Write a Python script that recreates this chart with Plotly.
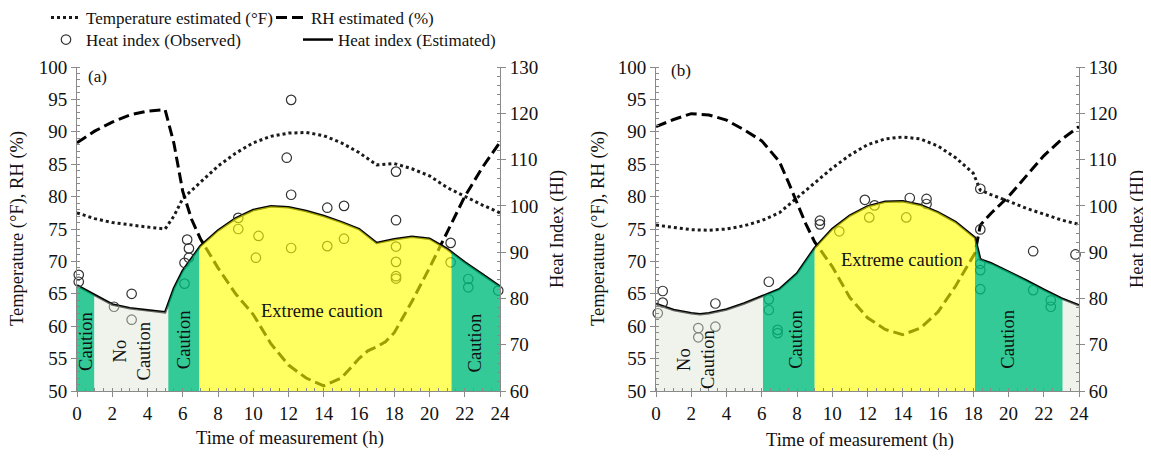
import numpy as np
import plotly.graph_objects as go

# ---------------- Panel (a) data ----------------
a_temp_x = [0, 1, 2, 3, 4, 5, 5.5, 6, 7, 8, 9, 10, 11, 12, 13, 14, 15, 16, 17, 18, 19, 20, 21, 22, 23, 24]
a_temp_y = [77.5, 76.6, 76.0, 75.6, 75.3, 75.0, 77.0, 79.7, 82.2, 84.7, 86.7, 88.3, 89.3, 89.8, 89.9, 89.4, 88.3, 86.8, 84.9, 85.1, 84.3, 83.2, 81.4, 80.0, 78.7, 77.5]

a_rh_x = [0, 1, 2, 3, 4, 5, 5.5, 6, 6.5, 7, 8, 9, 10, 11, 12, 13, 14, 15, 16, 16.5, 17, 17.5, 18, 19, 20, 21, 22, 23, 24]
a_rh_y = [88.3, 90.1, 91.5, 92.6, 93.2, 93.4, 88.2, 80.8, 76.5, 73.5, 69.0, 65.0, 61.8, 57.3, 54.0, 52.0, 50.8, 52.0, 55.0, 56.2, 56.8, 57.6, 59.0, 63.8, 69.0, 74.5, 80.0, 84.5, 88.4]

a_hi_x = [0, 1, 2, 3, 4, 5, 5.5, 6, 7, 8, 9, 10, 11, 12, 13, 14, 15, 16, 17, 18, 19, 20, 21, 22, 23, 24]
a_hi_y = [82.8, 80.7, 78.7, 77.9, 77.4, 77.0, 82.2, 86.0, 91.3, 94.7, 97.3, 99.1, 99.9, 99.7, 98.9, 97.8, 96.5, 95.0, 92.0, 92.8, 93.3, 92.9, 90.7, 87.8, 85.2, 82.6]

a_obs_x = [0.1, 0.1, 2.1, 3.1, 3.1, 6.25, 6.35, 6.35, 6.1, 6.1, 9.15, 9.15, 10.3, 10.15, 11.9, 12.15, 12.15, 12.15,
           14.2, 14.2, 15.15, 15.15, 18.1, 18.1, 18.1, 18.1, 18.1, 18.1, 21.2, 21.2, 22.2, 22.2, 23.9]
a_obs_y = [85.1, 83.6, 78.2, 81.0, 75.4, 92.7, 90.8, 88.8, 87.7, 83.2, 97.4, 95.0, 93.5, 88.8, 110.4, 122.9, 102.4, 90.9,
           99.6, 91.3, 100.0, 92.9, 107.4, 96.9, 91.2, 87.9, 84.8, 84.3, 92.0, 87.8, 84.2, 82.4, 81.7]

# zones: (start h, end h, zone name)
a_zones = [(0, 0.98, "Caution"), (0.98, 5.18, "No caution"), (5.18, 6.94, "Caution"),
           (6.94, 21.25, "Extreme caution"), (21.25, 24, "Caution")]

# ---------------- Panel (b) data ----------------
b_temp_x = [0, 1, 2, 3, 4, 5, 6, 7, 8, 9, 10, 11, 12, 13, 14, 15, 16, 17, 18, 18.4, 19, 20, 21, 22, 23, 24]
b_temp_y = [75.6, 75.2, 74.9, 74.8, 75.0, 75.5, 76.3, 77.5, 79.8, 82.2, 84.4, 86.4, 88.0, 88.9, 89.2, 88.9, 87.8, 86.0, 83.6, 81.0, 80.3, 79.3, 78.2, 77.3, 76.4, 75.7]

b_rh_x = [0, 1, 2, 3, 4, 5, 6, 7, 7.5, 8, 8.5, 9, 10, 11, 12, 13, 14, 15, 16, 17, 18.1, 18.4, 19, 20, 21, 22, 23, 24]
b_rh_y = [90.8, 91.9, 92.8, 92.6, 91.8, 90.3, 88.6, 85.4, 82.3, 79.0, 75.8, 73.0, 69.2, 64.4, 61.3, 59.5, 58.7, 59.7, 62.2, 66.2, 71.3, 75.6, 77.4, 80.0, 83.2, 86.3, 88.8, 90.8]

b_hi_x = [0, 1, 2, 2.5, 3, 4, 5, 6, 7, 8, 9, 10, 11, 12, 13, 14, 15, 16, 17, 18.1, 18.4, 19, 20, 21, 22, 23, 24]
b_hi_y = [78.8, 77.5, 76.8, 76.6, 76.8, 77.6, 78.9, 80.4, 82.0, 85.4, 90.9, 95.0, 97.9, 99.9, 100.9, 101.0, 100.2, 98.6, 96.5, 93.1, 88.4, 87.6, 85.8, 83.9, 81.9, 80.0, 78.5]

b_obs_x = [0.1, 0.38, 0.38, 2.4, 2.4, 3.37, 3.37, 6.4, 6.4, 6.4, 6.9, 6.9, 9.3, 9.3, 10.4, 11.85, 12.1, 12.4,
           14.2, 14.4, 15.35, 15.35, 18.4, 18.4, 18.4, 18.4, 18.4, 21.4, 21.4, 22.4, 22.4, 23.8]
b_obs_y = [76.8, 81.6, 79.1, 73.6, 71.6, 78.9, 73.9, 83.6, 79.8, 77.5, 73.2, 72.5, 96.8, 96.0, 94.5, 101.3, 97.5, 100.1,
           97.5, 101.7, 101.5, 100.4, 103.7, 94.9, 87.5, 86.1, 82.0, 90.2, 81.8, 79.6, 78.2, 89.5]

b_zones = [(0, 6.07, "No caution"), (6.07, 9.0, "Caution"), (9.0, 18.1, "Extreme caution"),
           (18.1, 23.07, "Caution"), (23.07, 24, "No caution")]

x_ticks = list(range(0, 25, 2))
left_ticks = list(range(50, 101, 5))
right_ticks = list(range(60, 131, 10))

zone_colors = {
    "Caution": "rgba(0,189,125,0.80)",
    "No caution": "rgba(222,228,212,0.45)",
    "Extreme caution": "rgba(255,255,0,0.62)",
}

FONT = "Liberation Serif, Times New Roman, serif"

fig = go.Figure()


def add_panel(n, tx, ty, rx, ry, hx, hy, ox, oy, zones, show):
    xa = "x" if n == 1 else "x2"
    yl = "y" if n == 1 else "y3"
    yr = "y2" if n == 1 else "y4"
    fig.add_trace(go.Scatter(x=tx, y=ty, mode="lines", xaxis=xa, yaxis=yl,
                             line=dict(color="#1a1a1a", width=3, dash="3px,3px"),
                             name="Temperature estimated (°F)", legend="legend",
                             legendrank=1, showlegend=show))
    fig.add_trace(go.Scatter(x=rx, y=ry, mode="lines", xaxis=xa, yaxis=yl,
                             line=dict(color="#000000", width=3, dash="11px,5px"),
                             name="RH estimated (%)", legend="legend",
                             legendrank=2, showlegend=show))
    fig.add_trace(go.Scatter(x=hx, y=hy, mode="lines", xaxis=xa, yaxis=yr,
                             line=dict(color="#000000", width=2.5),
                             name="Heat index (Estimated)", legend="legend2",
                             legendrank=4, showlegend=show))
    fig.add_trace(go.Scatter(x=ox, y=oy, mode="markers", xaxis=xa, yaxis=yr,
                             marker=dict(symbol="circle", size=9.5, color="rgba(255,255,255,0)",
                                         line=dict(color="#333333", width=1.2)),
                             cliponaxis=False,
                             name="Heat index (Observed)", legend="legend2",
                             legendrank=3, showlegend=show))
    for (a, b, z) in zones:
        inner_x = [x for x in hx if a < x < b]
        inner_y = [y for x, y in zip(hx, hy) if a < x < b]
        px = [a] + inner_x + [b]
        py = [float(np.interp(a, hx, hy))] + inner_y + [float(np.interp(b, hx, hy))]
        fig.add_trace(go.Scatter(x=px, y=py, mode="none", fill="tozeroy",
                                 fillcolor=zone_colors[z], xaxis=xa, yaxis=yr,
                                 showlegend=False, hoverinfo="skip"))


add_panel(1, a_temp_x, a_temp_y, a_rh_x, a_rh_y, a_hi_x, a_hi_y, a_obs_x, a_obs_y, a_zones, True)
add_panel(2, b_temp_x, b_temp_y, b_rh_x, b_rh_y, b_hi_x, b_hi_y, b_obs_x, b_obs_y, b_zones, False)

# The page body has an 8px margin, so the figure is sized to fit the window
OFF = 8
W, H = 1151 - OFF, 460 - OFF


def fx(px):
    return (px - OFF) / W


def fy(py):
    return 1 - (py - OFF) / H


ydom = [fy(391), fy(67)]
xdom1 = [fx(77), fx(500)]
xdom2 = [fx(656), fx(1079)]

axis_common = dict(showline=True, linecolor="#8a8a8a", linewidth=1, ticks="outside",
                   ticklen=5, tickcolor="#8a8a8a", showgrid=False, zeroline=False,
                   tickfont=dict(family=FONT, size=19, color="#111"))


def xaxis(dom, anchor):
    return dict(domain=dom, anchor=anchor, range=[0, 24], tickvals=x_ticks,
                minor=dict(dtick=0.5, ticks="inside", ticklen=3, tickcolor="#8a8a8a"),
                **axis_common)


def yleft(anchor):
    return dict(domain=ydom, anchor=anchor, range=[50, 100], tickvals=left_ticks,
                minor=dict(dtick=1, ticks="inside", ticklen=3, tickcolor="#8a8a8a"),
                **axis_common)


def yright(anchor, over):
    return dict(domain=ydom, anchor=anchor, overlaying=over, side="right", range=[60, 130],
                tickvals=right_ticks,
                minor=dict(dtick=2, ticks="inside", ticklen=3, tickcolor="#8a8a8a"),
                **axis_common)


ann = []


def paper_text(text, px, py, angle=0, size=18.5):
    ann.append(dict(text=text, x=fx(px), y=fy(py), xref="paper", yref="paper",
                    showarrow=False, textangle=angle, xanchor="center", yanchor="middle",
                    font=dict(family=FONT, size=size, color="#111")))


def data_text(text, x, y, xr, yr, angle=0, size=18.5):
    ann.append(dict(text=text, x=x, y=y, xref=xr, yref=yr, showarrow=False,
                    textangle=angle, xanchor="center", yanchor="middle",
                    font=dict(family=FONT, size=size, color="#111")))


# axis titles
paper_text("Temperature (°F), RH (%)", 18, 229, -90)
paper_text("Heat Index (HI)", 558, 229, -90)
paper_text("Time of measurement (h)", 290, 438)
paper_text("Temperature (°F), RH (%)", 599, 229, -90)
paper_text("Heat Index (HI)", 1138, 229, -90)
paper_text("Time of measurement (h)", 860, 440)
paper_text("(a)", 97, 76, 0, 17)
paper_text("(b)", 681, 71, 0, 17)

# zone labels (a)
data_text("Caution", 0.5, 57.7, "x", "y", -90)
data_text("No<br>Caution", 3.1, 56.2, "x", "y", -90)
data_text("Caution", 6.07, 58.0, "x", "y", -90)
data_text("Extreme caution", 13.9, 62.4, "x", "y", 0)
data_text("Caution", 22.6, 57.4, "x", "y", -90)
# zone labels (b)
data_text("No<br>Caution", 2.27, 54.8, "x2", "y3", -90)
data_text("Caution", 7.98, 58.0, "x2", "y3", -90)
data_text("Extreme caution", 13.93, 70.2, "x2", "y3", 0)
data_text("Caution", 20.0, 58.0, "x2", "y3", -90)

fig.update_layout(
    width=W, height=H,
    margin=dict(l=0, r=0, t=0, b=0, autoexpand=False),
    paper_bgcolor="white", plot_bgcolor="white",
    font=dict(family=FONT, size=17, color="#111"),
    xaxis=xaxis(xdom1, "y"),
    yaxis=yleft("x"),
    yaxis2=yright("x", "y"),
    xaxis2=xaxis(xdom2, "y3"),
    yaxis3=yleft("x2"),
    yaxis4=yright("x2", "y3"),
    annotations=ann,
    legend=dict(orientation="h", x=fx(46), y=fy(0), xanchor="left", yanchor="top",
                entrywidth=180, entrywidthmode="pixels", bgcolor="rgba(0,0,0,0)",
                font=dict(family=FONT, size=17, color="#111"), itemwidth=30,
                traceorder="normal"),
    legend2=dict(orientation="h", x=fx(46), y=fy(22), xanchor="left", yanchor="top",
                 entrywidth=207, entrywidthmode="pixels", bgcolor="rgba(0,0,0,0)",
                 font=dict(family=FONT, size=17, color="#111"), itemwidth=30,
                 traceorder="normal"),
    showlegend=True,
)

fig.write_html("out.html")
